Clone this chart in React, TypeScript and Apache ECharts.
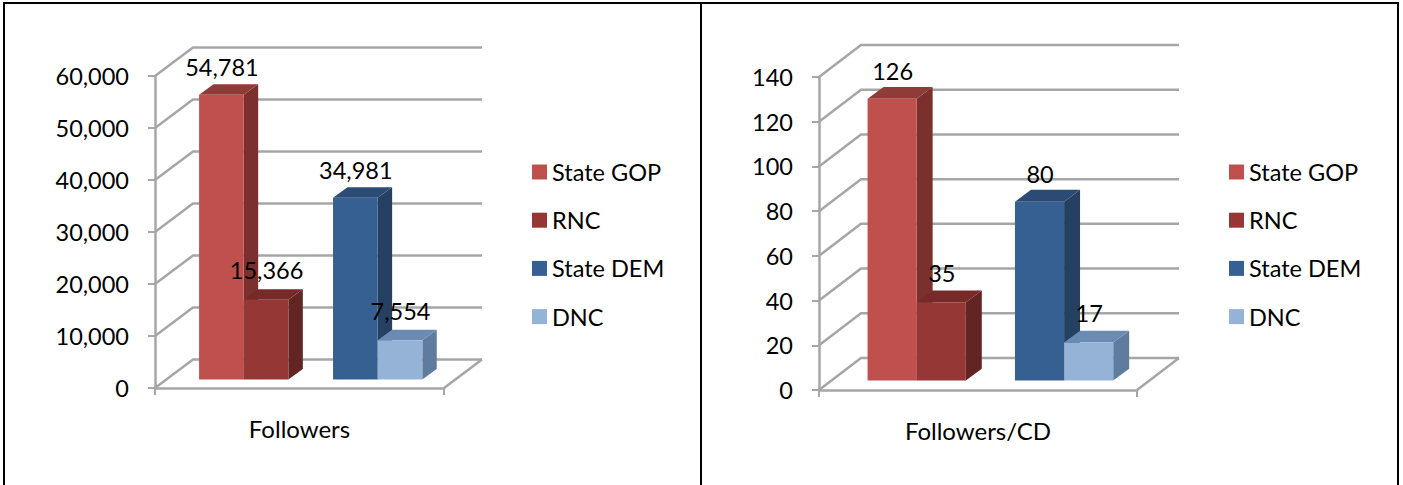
import React, { useEffect, useRef } from "react";
import * as echarts from "echarts";

const seriesNames = ["State GOP", "RNC", "State DEM", "DNC"];
const followersCategory = ["Followers"];
const followersValues = [54781, 15366, 34981, 7554];
const followersTicks = [0, 10000, 20000, 30000, 40000, 50000, 60000];
const perCdCategory = ["Followers/CD"];
const perCdValues = [126, 35, 80, 17];
const perCdTicks = [0, 20, 40, 60, 80, 100, 120, 140];

const FONT = "Lato";
const GRID_COLOR = "#a6a6a6";
const faceColors = [
  { front: "#c0504d", side: "#7b302e", top: "#8f3b38" },
  { front: "#953735", side: "#632523", top: "#772b29" },
  { front: "#376092", side: "#254061", top: "#2b4b75" },
  { front: "#95b3d7", side: "#5f7c9f", top: "#6c8bb2" },
];

const BAR_FRACTION = 0.1545;
const slotOffsets = [-2.5, -1.5, 0.5, 1.5];
const labelLift = [27.5, 29.5, 28, 29.5];

function wallSeries(panel: number, depth: number[]) {
  return {
    type: "custom",
    name: "walls" + panel,
    xAxisIndex: panel,
    yAxisIndex: panel,
    silent: true,
    z: 1,
    encode: { x: 0, y: 1 },
    data: (panel === 0 ? followersTicks : perCdTicks).map((t) => [0, t]),
    renderItem: (_p: any, api: any) => {
      const c = api.coord([api.value(0), api.value(1)]);
      const w = api.size([1, 0])[0];
      const x0 = c[0] - w / 2;
      const x1 = c[0] + w / 2;
      const style = { stroke: GRID_COLOR, lineWidth: 2.5, fill: "none" };
      const children: any[] = [
        {
          type: "polyline",
          shape: {
            points: [
              [x0, c[1]],
              [x0 + depth[0], c[1] - depth[1]],
              [x1 + depth[0], c[1] - depth[1]],
            ],
          },
          style,
        },
      ];
      if (api.value(1) === 0) {
        children.push({
          type: "line",
          shape: { x1, y1: c[1], x2: x1 + depth[0], y2: c[1] - depth[1] },
          style,
        });
      }
      return { type: "group", children };
    },
  };
}

function barSeries(panel: number, idx: number, value: number, depth: number[], labelFont: number) {
  return {
    type: "custom",
    name: seriesNames[idx],
    xAxisIndex: panel,
    yAxisIndex: panel,
    silent: true,
    z: 2 + idx,
    itemStyle: { color: faceColors[idx].front },
    encode: { x: 0, y: 1 },
    data: [[0, value]],
    renderItem: (_p: any, api: any) => {
      const top = api.coord([api.value(0), api.value(1)]);
      const base = api.coord([api.value(0), 0]);
      const size = api.size([1, 0])[0];
      const bw = size * BAR_FRACTION;
      const shiftX = depth[0] * 0.295;
      const shiftY = depth[1] * 0.295;
      const sx = depth[0] * 0.38;
      const sy = depth[1] * 0.37;
      const x = top[0] + shiftX + slotOffsets[idx] * bw;
      const yt = top[1] - shiftY;
      const yb = base[1] - shiftY;
      const col = faceColors[idx];
      return {
        type: "group",
        children: [
          {
            type: "polygon",
            shape: { points: [[x + bw, yt], [x + bw + sx, yt - sy], [x + bw + sx, yb - sy], [x + bw, yb]] },
            style: { fill: col.side },
          },
          {
            type: "polygon",
            shape: { points: [[x, yt], [x + bw, yt], [x + bw + sx, yt - sy], [x + sx, yt - sy]] },
            style: { fill: col.top },
          },
          { type: "rect", shape: { x, y: yt, width: bw, height: yb - yt }, style: { fill: col.front } },
          {
            type: "text",
            style: {
              text: api.value(1).toLocaleString("en-US"),
              x: x + bw / 2 + 0.5,
              y: yt - labelLift[idx],
              align: "center",
              verticalAlign: "middle",
              fontFamily: FONT,
              fontSize: labelFont,
              fill: "#000",
            },
          },
        ],
      };
    },
  };
}

export default function App() {
  const ref = useRef<HTMLDivElement>(null);
  useEffect(() => {
    const chart = echarts.init(ref.current!, undefined, { renderer: "svg" });
    const depths = [
      [38, 28.5],
      [42, 32],
    ];
    const axisLine = { show: true, lineStyle: { color: GRID_COLOR, width: 2.5 } };
    const axisTick = { show: true, length: 7, lineStyle: { color: GRID_COLOR, width: 2 } };
    const legendBase = {
      orient: "vertical",
      top: 155,
      itemWidth: 15,
      itemHeight: 15,
      itemGap: 24.2,
      icon: "rect",
      selectedMode: false,
      data: seriesNames,
      textStyle: { fontFamily: FONT, fontSize: 23.5, color: "#000", lineHeight: 15 },
    };
    chart.setOption({
      animation: false,
      backgroundColor: "#fff",
      grid: [
        { left: 155, top: 76, width: 289, height: 312 },
        { left: 819, top: 77, width: 318, height: 313 },
      ],
      xAxis: [followersCategory, perCdCategory].map((cats, i) => ({
        type: "category",
        gridIndex: i,
        data: cats,
        axisLine,
        axisTick,
        axisLabel: { fontFamily: FONT, fontSize: 24, color: "#000", margin: 28 },
        splitLine: { show: false },
      })),
      yAxis: [
        { max: 60000, interval: 10000 },
        { max: 140, interval: 20 },
      ].map((a, i) => ({
        type: "value",
        gridIndex: i,
        min: 0,
        max: a.max,
        interval: a.interval,
        axisLine,
        axisTick,
        axisLabel: { fontFamily: FONT, fontSize: 23.5, color: "#000", margin: 26 },
        splitLine: { show: false },
      })),
      legend: [
        { ...legendBase, left: 527 },
        { ...legendBase, left: 1224 },
      ],
      graphic: [
        { type: "rect", shape: { x: 3, y: 2, width: 1396, height: 2 }, style: { fill: "#000" } },
        { type: "rect", shape: { x: 3, y: 2, width: 2, height: 483 }, style: { fill: "#000" } },
        { type: "rect", shape: { x: 700, y: 2, width: 2, height: 483 }, style: { fill: "#000" } },
        { type: "rect", shape: { x: 1397, y: 2, width: 2, height: 483 }, style: { fill: "#000" } },
      ],
      series: [
        wallSeries(0, depths[0]),
        wallSeries(1, depths[1]),
        ...followersValues.map((v, i) => barSeries(0, i, v, depths[0], 23.5)),
        ...perCdValues.map((v, i) => barSeries(1, i, v, depths[1], 23.5)),
      ],
    });
    return () => chart.dispose();
  }, []);
  return <div ref={ref} style={{ position: "absolute", left: 0, top: 0, width: 1403, height: 485 }} />;
}
